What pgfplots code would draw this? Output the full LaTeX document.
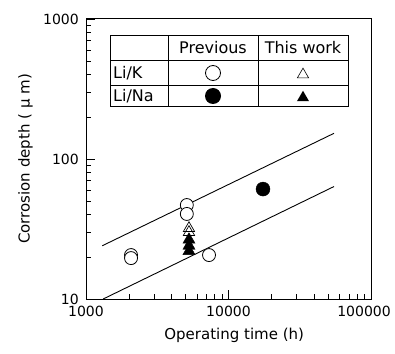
\documentclass[border=0pt]{standalone}
\usepackage{fontspec}
\setmainfont{DejaVu Sans}
\usepackage{pgfplots}
\pgfplotsset{compat=1.18}
\begin{document}
\begin{tikzpicture}[x=1pt,y=1pt]
\useasboundingbox (-86,-54) rectangle (309,299);
\begin{axis}[at={(0,0)},anchor=south west,
  scale only axis, width=285pt, height=280pt,
  xmode=log, ymode=log,
  xmin=1000, xmax=100000, ymin=10, ymax=1000,
  xtick={1000,10000}, xticklabels={1000,10000},
  extra x ticks={100000}, extra x tick labels={100000},
  extra x tick style={xticklabel style={xshift=-7pt}},
  ytick={10,100,1000}, yticklabels={10,100,1000},
  minor xtick={2000,3000,4000,5000,6000,7000,8000,9000,20000,30000,40000,50000,60000,70000,80000,90000},
  minor ytick={20,30,40,50,60,70,80,90,200,300,400,500,600,700,800,900},
  tick align=inside, xtick pos=bottom, ytick pos=left,
  major tick length=9pt, minor tick length=5pt,
  every tick/.style={black, line width=0.7pt},
  axis line style={line width=1pt},
  /pgf/number format/assume math mode=true,
  ticklabel style={font=\fontsize{14}{14}\selectfont, inner sep=1pt},
  xticklabel style={yshift=-6pt},
  yticklabel style={xshift=-6pt},
  xlabel={Operating time (h)},
  ylabel={Corrosion depth ( μ m)},
  every axis x label/.style={at={(axis description cs:0.52,-0.13)}, anchor=center, font=\fontsize{15}{15}\selectfont},
  every axis y label/.style={at={(axis description cs:-0.212,0.5)}, rotate=90, anchor=center, font=\fontsize{15}{15}\selectfont},
  clip=false,
]
% trend lines
\addplot[black, line width=0.9pt, no marks] coordinates {(1300,24) (55000,152.6)};
\addplot[black, line width=0.9pt, no marks] coordinates {(1320,10) (55000,63.6)};
% Li/K previous (open circles)
\addplot[only marks, mark=*, mark size=6.5pt, mark options={fill=white, draw=black, line width=0.8pt}]
  coordinates {(2070,20.6) (2070,19.6) (5100,46.9) (5100,40.5) (7300,20.6)};
% Li/Na previous (filled circle)
\addplot[only marks, mark=*, mark size=7pt, mark options={fill=black, draw=black}]
  coordinates {(17460,61)};
% Li/K this work (open triangles)
\addplot[only marks, mark=triangle, mark size=6.5pt, mark options={draw=black, line width=0.7pt}]
  coordinates {(5280,32) (5280,30)};
% Li/Na this work (filled triangles)
\addplot[only marks, mark=triangle*, mark size=7pt, mark options={fill=black, draw=black}]
  coordinates {(5280,26.5) (5280,24) (5280,22)};
\end{axis}
% legend table
\draw[line width=1pt] (24,192) rectangle (262,263);
\draw[line width=0.7pt] (82,192)--(82,263) (172,192)--(172,263) (24,239)--(262,239) (24,214)--(262,214);
\begin{scope}[every node/.style={font=\fontsize{16}{16}\selectfont, inner sep=0pt}]
\node at (127,251) {Previous};
\node at (217,251) {This work};
\node[anchor=west] at (27,226) {Li/K};
\node[anchor=west] at (27,203) {Li/Na};
\end{scope}
\node at (127,226) {\tikz\draw[line width=0.8pt] (0,0) circle (7.5pt);};
\node at (217,226) {\tikz\draw[line width=0.6pt] (90:6.5pt)--(210:6.5pt)--(330:6.5pt)--cycle;};
\node at (127,203) {\tikz\fill (0,0) circle (8pt);};
\node at (217,203) {\tikz\fill (90:7pt)--(210:7pt)--(330:7pt)--cycle;};
\end{tikzpicture}
\end{document}
